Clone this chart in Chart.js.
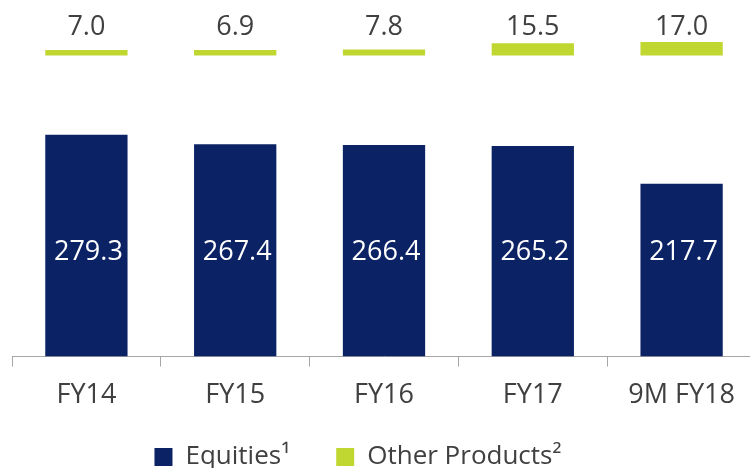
<!DOCTYPE html>
<html>
<head>
<meta charset="utf-8">
<script src="https://cdn.jsdelivr.net/npm/chart.js@4/dist/chart.umd.min.js"></script>
<style>
  html, body { margin: 0; padding: 0; background: #fff; }
  #wrap { width: 750px; height: 468px; overflow: hidden; position: relative; }
  #box { width: 756px; height: 468px; }
</style>
</head>
<body>
<div id="wrap"><div id="box"><canvas id="chart"></canvas></div></div>
<script>
const categories = ['FY14', 'FY15', 'FY16', 'FY17', '9M FY18'];
const equities = [279.3, 267.4, 266.4, 265.2, 217.7];
const otherProducts = [7.0, 6.9, 7.8, 15.5, 17.0];

// other products float above the equities bars from a fixed level
const otherBase = 379;

const navy = '#0b2265';
const green = '#bfd730';
const textGrey = '#404040';

const valueLabels = {
    id: 'valueLabels',
    afterDatasetsDraw(chart) {
        const ctx = chart.ctx;
        ctx.save();
        ctx.font = '27px "Open Sans"';
        ctx.textAlign = 'center';
        ctx.textBaseline = 'middle';
        chart.getDatasetMeta(0).data.forEach((bar, i) => {
            ctx.fillStyle = '#ffffff';
            ctx.fillText(equities[i].toFixed(1), bar.x + 2, bar.base - 104);
        });
        chart.getDatasetMeta(1).data.forEach((bar, i) => {
            ctx.fillStyle = textGrey;
            ctx.fillText(otherProducts[i].toFixed(1), bar.x, bar.base - 28);
        });
        ctx.restore();
    }
};

new Chart(document.getElementById('chart'), {
    type: 'bar',
    data: {
        labels: categories,
        datasets: [
            {
                // trailing spaces widen the gap between legend items
                label: 'Equities\u00b9\u2003',
                data: equities,
                backgroundColor: navy,
                borderWidth: 0,
                categoryPercentage: 1,
                barPercentage: 0.553,
                grouped: false
            },
            {
                label: 'Other Products\u00b2\u2003\u2003',
                data: otherProducts.map(v => [otherBase, otherBase + v]),
                backgroundColor: green,
                borderWidth: 0,
                categoryPercentage: 1,
                barPercentage: 0.553,
                grouped: false
            }
        ]
    },
    options: {
        responsive: true,
        maintainAspectRatio: false,
        animation: false,
        layout: { padding: { left: 12, right: 0, top: 0, bottom: -12 } },
        scales: {
            x: {
                grid: {
                    display: true,
                    drawOnChartArea: false,
                    offset: true,
                    tickLength: 10,
                    color: '#a6a6a6'
                },
                border: { color: '#a6a6a6', width: 1 },
                ticks: {
                    color: textGrey,
                    font: { family: 'Open Sans', size: 27 },
                    padding: 13,
                    maxRotation: 0,
                    autoSkip: false
                },
                afterFit(scale) {
                    scale.height -= 1;
                }
            },
            y: {
                display: false,
                min: 0,
                max: 449
            }
        },
        plugins: {
            legend: {
                position: 'bottom',
                labels: {
                    color: textGrey,
                    font: { family: 'Open Sans', size: 26 },
                    boxWidth: 18,
                    boxHeight: 18,
                    padding: 20
                }
            },
            tooltip: { enabled: false }
        }
    },
    plugins: [valueLabels]
});
</script>
</body>
</html>
